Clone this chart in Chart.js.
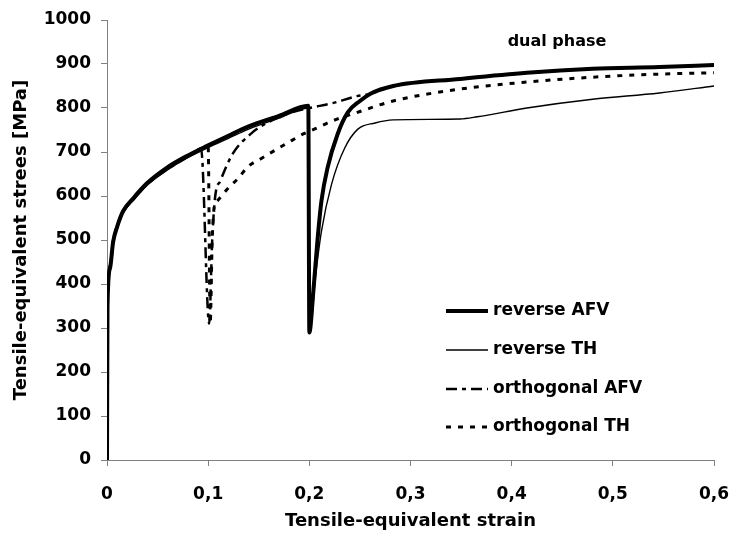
<!DOCTYPE html>
<html>
<head>
<meta charset="utf-8">
<script src="https://cdn.jsdelivr.net/npm/chart.js@4/dist/chart.umd.min.js"></script>
<style>
  html, body { margin: 0; padding: 0; background: #fff; }
  #wrap { width: 737px; height: 538px; }
</style>
</head>
<body>
<div id="wrap"><canvas id="chart" width="737" height="538"></canvas></div>
<script>
const FONT = "'DejaVu Sans', sans-serif"

// reverse AFV (thick)
const revAfvX = [0, 0.0005, 0.003, 0.006, 0.01, 0.016, 0.026, 0.04, 0.059, 0.079, 0.1, 0.12, 0.14, 0.17, 0.199, 0.2, 0.204, 0.208, 0.212, 0.218, 0.228, 0.238, 0.25, 0.26, 0.283, 0.349, 0.415, 0.48, 0.546, 0.6]
const revAfvY = [0, 350, 436, 495, 530, 566, 595, 630, 664, 691, 715, 737, 758, 782, 805, 290, 384, 498, 589, 664, 741, 790, 816, 832, 850, 866, 880, 889, 893, 898]

// reverse TH (thin)
const revThX = [0, 0.0005, 0.003, 0.006, 0.01, 0.016, 0.026, 0.04, 0.059, 0.079, 0.1, 0.12, 0.14, 0.17, 0.199, 0.2005, 0.206, 0.212, 0.222, 0.235, 0.248, 0.265, 0.283, 0.349, 0.366, 0.415, 0.48, 0.546, 0.6]
const revThY = [0, 360, 445, 500, 532, 563, 590, 625, 658, 686, 710, 731, 752, 777, 800, 290, 414, 520, 627, 709, 752, 766, 773, 775, 780, 800, 820, 834, 850]

// orthogonal AFV (dash-dot)
const ortAfvX = [0, 0.0005, 0.003, 0.006, 0.01, 0.016, 0.026, 0.04, 0.059, 0.079, 0.093, 0.101, 0.104, 0.107, 0.112, 0.124, 0.143, 0.158, 0.181, 0.2, 0.223, 0.247, 0.26, 0.283, 0.349, 0.415, 0.48, 0.546, 0.6]
const ortAfvY = [0, 355, 440, 497, 530, 564, 592, 627, 660, 688, 707, 310, 500, 600, 634, 695, 743, 766, 789, 800, 811, 827, 832, 850, 866, 880, 889, 893, 898]

// orthogonal TH (short dash)
const ortThX = [0, 0.0005, 0.003, 0.006, 0.01, 0.016, 0.026, 0.04, 0.059, 0.079, 0.1, 0.102, 0.104, 0.106, 0.109, 0.119, 0.13, 0.139, 0.153, 0.178, 0.194, 0.208, 0.222, 0.25, 0.283, 0.349, 0.415, 0.48, 0.546, 0.6]
const ortThY = [0, 352, 438, 496, 530, 565, 593, 628, 662, 690, 712, 310, 500, 575, 589, 616, 641, 666, 686, 720, 741, 755, 770, 792, 816, 843, 859, 870, 877, 880]

const seriesNames = ["reverse AFV", "reverse TH", "orthogonal AFV", "orthogonal TH"]
const xTicks = [0, 0.1, 0.2, 0.3, 0.4, 0.5, 0.6]
const yTicks = [0, 100, 200, 300, 400, 500, 600, 700, 800, 900, 1000]

function pts(xs, ys) { return xs.map((x, i) => ({ x: x, y: ys[i] })) }

const styles = [
  { borderWidth: 4, borderDash: [] },
  { borderWidth: 1.4, borderDash: [] },
  { borderWidth: 2.5, borderDash: [11, 5, 4, 5] },
  { borderWidth: 3, borderDash: [5, 7] }
]
const allData = [pts(revAfvX, revAfvY), pts(revThX, revThY), pts(ortAfvX, ortAfvY), pts(ortThX, ortThY)]

const datasets = seriesNames.map((name, i) => ({
  label: name,
  data: allData[i],
  borderColor: "#000",
  backgroundColor: "#000",
  borderWidth: styles[i].borderWidth,
  borderDash: styles[i].borderDash,
  pointRadius: 0,
  cubicInterpolationMode: "monotone",
  fill: false
}))

// legend and label drawn inside the plot
const legendPlugin = {
  id: "insideLegend",
  afterDatasetsDraw(chart) {
    const ctx = chart.ctx
    const rows = [311, 350, 389, 427]
    ctx.save()
    datasets.forEach((d, i) => {
      ctx.beginPath()
      ctx.strokeStyle = "#000"
      ctx.lineWidth = d.borderWidth
      ctx.setLineDash(d.borderDash)
      ctx.moveTo(446, rows[i])
      ctx.lineTo(488, rows[i])
      ctx.stroke()
      ctx.setLineDash([])
      ctx.fillStyle = "#000"
      ctx.font = "bold 17px " + FONT
      ctx.textBaseline = "middle"
      ctx.textAlign = "left"
      ctx.fillText(d.label, 493, rows[i])
    })
    ctx.font = "bold 16px " + FONT
    ctx.textAlign = "center"
    ctx.fillText("dual phase", 557, 42)
    ctx.restore()
  }
}

new Chart(document.getElementById("chart"), {
  type: "line",
  data: { datasets },
  plugins: [legendPlugin],
  options: {
    responsive: false,
    animation: false,
    layout: { padding: { top: 20, right: 23, left: 0, bottom: 0 } },
    plugins: { legend: { display: false }, tooltip: { enabled: false } },
    scales: {
      x: {
        type: "linear",
        min: 0, max: 0.6,
        afterFit: s => { s.height = 78; s.paddingRight = 0; s.paddingLeft = 0 },
        afterBuildTicks: s => { s.ticks = xTicks.map(v => ({ value: v })) },
        grid: { drawOnChartArea: false, tickLength: 6, color: "#808080" },
        border: { color: "#808080" },
        ticks: {
          padding: 18,
          color: "#000",
          font: { family: FONT, size: 17, weight: "bold" },
          callback: v => v === 0 ? "0" : v.toFixed(1).replace(".", ",")
        },
        title: {
          display: true,
          text: "Tensile-equivalent strain",
          color: "#000",
          font: { family: FONT, size: 18, weight: "bold" },
          padding: { top: 0, bottom: 6 }
        }
      },
      y: {
        min: 0, max: 1000,
        afterFit: s => { s.width = 107; s.paddingTop = 0; s.paddingBottom = 0 },
        afterBuildTicks: s => { s.ticks = yTicks.map(v => ({ value: v })) },
        grid: { drawOnChartArea: false, tickLength: 6, color: "#808080" },
        border: { color: "#808080" },
        ticks: {
          padding: 10,
          color: "#000",
          font: { family: FONT, size: 17, weight: "bold" },
          callback: v => String(v)
        },
        title: {
          display: true,
          text: "Tensile-equivalent strees [MPa]",
          color: "#000",
          font: { family: FONT, size: 18, weight: "bold" },
          padding: { top: 11, bottom: 0 }
        }
      }
    }
  }
})
</script>
</body>
</html>
